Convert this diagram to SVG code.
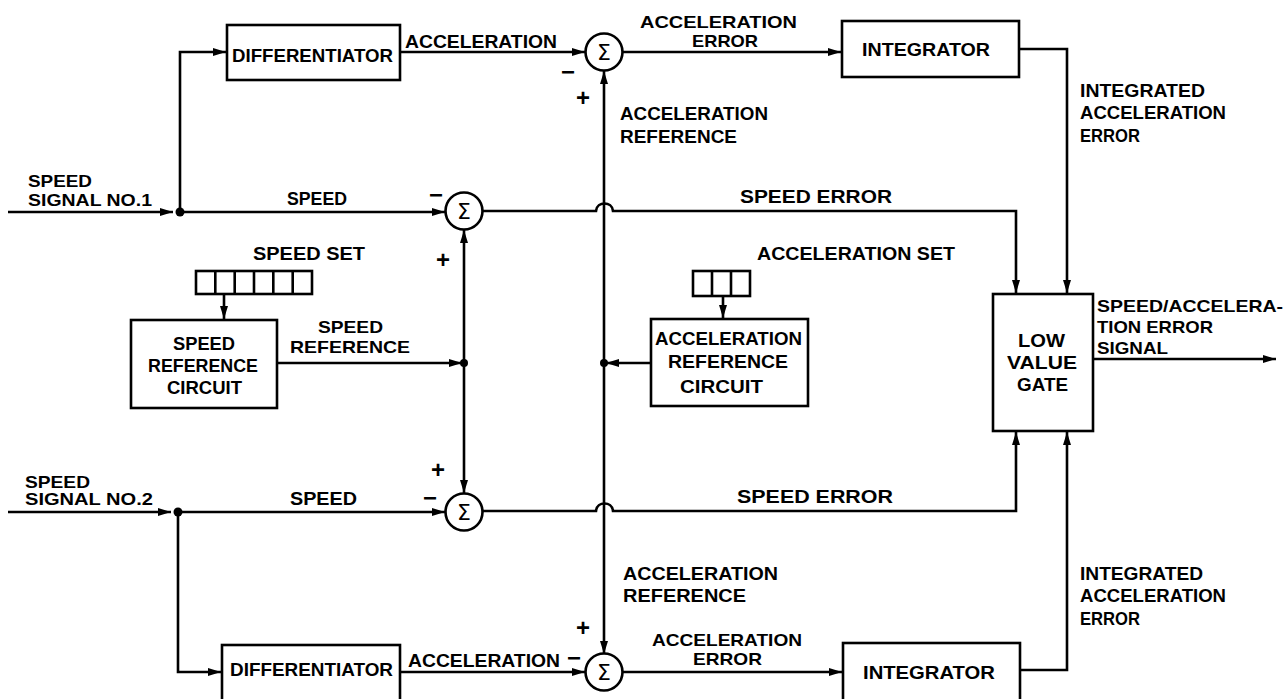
<svg xmlns="http://www.w3.org/2000/svg" width="1287" height="699" viewBox="0 0 1287 699">
<style>
  .bg{fill:#fff}
  .box{fill:#fff;stroke:#000;stroke-width:2.6}
  .ln{fill:none;stroke:#000;stroke-width:2.6}
  .t{font-family:"Liberation Sans",Arial,sans-serif;font-weight:bold;font-size:19px;fill:#000}
  .s{font-size:17px}
  .pm{font-family:"Liberation Sans",Arial,sans-serif;font-weight:bold;font-size:24px;fill:#000;text-anchor:middle}
  .sig{font-family:"DejaVu Sans","Liberation Sans",sans-serif;font-size:22px;text-anchor:middle;fill:#000}
  .dot{fill:#000}
</style>
<defs>
  <marker id="ah" markerUnits="userSpaceOnUse" markerWidth="14" markerHeight="10" refX="13" refY="5" orient="auto">
    <path d="M0,1 L13,5 L0,9 Z" fill="#000"/>
  </marker>
</defs>
<rect class="bg" x="0" y="0" width="1287" height="699"/>

<g id="connectors">
  <path class="ln" d="M8,212 H173" marker-end="url(#ah)"/>
  <path class="ln" d="M180,212 H445" marker-end="url(#ah)"/>
  <path class="ln" d="M180,212 V52 H226" marker-end="url(#ah)"/>
  <path class="ln" d="M400,52 H585" marker-end="url(#ah)"/>
  <path class="ln" d="M622,52 H841" marker-end="url(#ah)"/>
  <path class="ln" d="M1019,49 H1067 V293" marker-end="url(#ah)"/>
  <path class="ln" d="M482,211 H596 C597,201 612,201 613,211 H1016 V293" marker-end="url(#ah)"/>
  <path class="ln" d="M604,363 V71" marker-end="url(#ah)"/>
  <path class="ln" d="M604,363 V654" marker-end="url(#ah)"/>
  <path class="ln" d="M464,363 V230" marker-end="url(#ah)"/>
  <path class="ln" d="M464,363 V493" marker-end="url(#ah)"/>
  <path class="ln" d="M277,363 H462" marker-end="url(#ah)"/>
  <path class="ln" d="M651,363 H606" marker-end="url(#ah)"/>
  <path class="ln" d="M224,294 V319" marker-end="url(#ah)"/>
  <path class="ln" d="M723,296 V318" marker-end="url(#ah)"/>
  <path class="ln" d="M1093,359 H1276" marker-end="url(#ah)"/>
  <path class="ln" d="M8,512 H171" marker-end="url(#ah)"/>
  <path class="ln" d="M178,512 H445" marker-end="url(#ah)"/>
  <path class="ln" d="M178,512 V672 H221" marker-end="url(#ah)"/>
  <path class="ln" d="M400,672 H585" marker-end="url(#ah)"/>
  <path class="ln" d="M623,672 H842" marker-end="url(#ah)"/>
  <path class="ln" d="M1020,670 H1067 V432" marker-end="url(#ah)"/>
  <path class="ln" d="M482,511 H596 C597,501 612,501 613,511 H1016 V432" marker-end="url(#ah)"/>
  <circle class="dot" cx="180" cy="212" r="4.5"/>
  <circle class="dot" cx="178" cy="512" r="4.5"/>
  <circle class="dot" cx="464" cy="363" r="4"/>
  <circle class="dot" cx="604" cy="363" r="4"/>
</g>

<g id="diff1">
  <rect class="box" x="227" y="25" width="173" height="55"/>
  <text class="t" x="232" y="62" textLength="161" lengthAdjust="spacingAndGlyphs">DIFFERENTIATOR</text>
</g>
<g id="sum_acc1">
  <circle class="box" cx="604" cy="52" r="18.5"/>
  <text class="sig" x="604" y="60">Σ</text>
</g>
<g id="integ1">
  <rect class="box" x="842" y="21" width="177" height="56"/>
  <text class="t" x="862" y="56" textLength="128" lengthAdjust="spacingAndGlyphs">INTEGRATOR</text>
</g>
<g id="sum_spd1">
  <circle class="box" cx="464" cy="211" r="18.5"/>
  <text class="sig" x="464" y="219">Σ</text>
</g>
<g id="speed_set">
  <rect class="box" x="196" y="271" width="116" height="23"/>
  <path class="ln" d="M215.3,271 V294 M234.7,271 V294 M254,271 V294 M273.3,271 V294 M292.7,271 V294"/>
</g>
<g id="speed_ref">
  <rect class="box" x="131" y="320" width="146" height="88"/>
  <text class="t" x="173" y="350" textLength="62" lengthAdjust="spacingAndGlyphs">SPEED</text>
  <text class="t" x="148" y="372" textLength="110" lengthAdjust="spacingAndGlyphs">REFERENCE</text>
  <text class="t" x="167" y="394" textLength="75" lengthAdjust="spacingAndGlyphs">CIRCUIT</text>
</g>
<g id="acc_set">
  <rect class="box" x="693" y="271" width="57" height="25"/>
  <path class="ln" d="M712,271 V296 M731,271 V296"/>
</g>
<g id="acc_ref">
  <rect class="box" x="651" y="319" width="157" height="87"/>
  <text class="t" x="655" y="345" textLength="147" lengthAdjust="spacingAndGlyphs">ACCELERATION</text>
  <text class="t" x="668" y="368" textLength="120" lengthAdjust="spacingAndGlyphs">REFERENCE</text>
  <text class="t" x="680" y="393" textLength="83" lengthAdjust="spacingAndGlyphs">CIRCUIT</text>
</g>
<g id="gate">
  <rect class="box" x="993" y="294" width="100" height="137"/>
  <text class="t" x="1018" y="347" textLength="47" lengthAdjust="spacingAndGlyphs">LOW</text>
  <text class="t" x="1007" y="369" textLength="70" lengthAdjust="spacingAndGlyphs">VALUE</text>
  <text class="t" x="1017" y="391" textLength="51" lengthAdjust="spacingAndGlyphs">GATE</text>
</g>
<g id="sum_spd2">
  <circle class="box" cx="464" cy="512" r="18.5"/>
  <text class="sig" x="464" y="520">Σ</text>
</g>
<g id="diff2">
  <rect class="box" x="222" y="645" width="178" height="56"/>
  <text class="t" x="230" y="676" textLength="163" lengthAdjust="spacingAndGlyphs">DIFFERENTIATOR</text>
</g>
<g id="sum_acc2">
  <circle class="box" cx="604" cy="672" r="18.5"/>
  <text class="sig" x="604" y="680">Σ</text>
</g>
<g id="integ2">
  <rect class="box" x="843" y="643" width="177" height="58"/>
  <text class="t" x="863" y="679" textLength="132" lengthAdjust="spacingAndGlyphs">INTEGRATOR</text>
</g>

<g id="labels">
  <text class="t s" x="28" y="187" textLength="64" lengthAdjust="spacingAndGlyphs">SPEED</text>
  <text class="t s" x="28" y="206" textLength="124" lengthAdjust="spacingAndGlyphs">SIGNAL NO.1</text>
  <text class="t" x="287" y="205" textLength="60" lengthAdjust="spacingAndGlyphs">SPEED</text>
  <text class="t" x="405" y="48" textLength="152" lengthAdjust="spacingAndGlyphs">ACCELERATION</text>
  <text class="t s" x="640" y="28" textLength="157" lengthAdjust="spacingAndGlyphs">ACCELERATION</text>
  <text class="t s" x="692" y="47" textLength="66" lengthAdjust="spacingAndGlyphs">ERROR</text>
  <text class="pm" x="568" y="80">−</text>
  <text class="pm" x="583" y="106">+</text>
  <text class="t" x="620" y="120" textLength="148" lengthAdjust="spacingAndGlyphs">ACCELERATION</text>
  <text class="t" x="620" y="143" textLength="117" lengthAdjust="spacingAndGlyphs">REFERENCE</text>
  <text class="t" x="1080" y="97" textLength="125" lengthAdjust="spacingAndGlyphs">INTEGRATED</text>
  <text class="t" x="1080" y="119" textLength="146" lengthAdjust="spacingAndGlyphs">ACCELERATION</text>
  <text class="t" x="1080" y="142" textLength="60" lengthAdjust="spacingAndGlyphs">ERROR</text>
  <text class="t" x="740" y="203" textLength="152" lengthAdjust="spacingAndGlyphs">SPEED ERROR</text>
  <text class="pm" x="436" y="203">−</text>
  <text class="pm" x="443" y="268">+</text>
  <text class="t" x="253" y="260" textLength="112" lengthAdjust="spacingAndGlyphs">SPEED SET</text>
  <text class="t" x="757" y="260" textLength="198" lengthAdjust="spacingAndGlyphs">ACCELERATION SET</text>
  <text class="t s" x="318" y="333" textLength="65" lengthAdjust="spacingAndGlyphs">SPEED</text>
  <text class="t s" x="290" y="353" textLength="120" lengthAdjust="spacingAndGlyphs">REFERENCE</text>
  <text class="t s" x="1097" y="312" textLength="186" lengthAdjust="spacingAndGlyphs">SPEED/ACCELERA-</text>
  <text class="t s" x="1097" y="333" textLength="116" lengthAdjust="spacingAndGlyphs">TION ERROR</text>
  <text class="t s" x="1097" y="354" textLength="71" lengthAdjust="spacingAndGlyphs">SIGNAL</text>
  <text class="t s" x="25" y="488" textLength="65" lengthAdjust="spacingAndGlyphs">SPEED</text>
  <text class="t s" x="25" y="505" textLength="128" lengthAdjust="spacingAndGlyphs">SIGNAL NO.2</text>
  <text class="t" x="290" y="505" textLength="67" lengthAdjust="spacingAndGlyphs">SPEED</text>
  <text class="pm" x="438" y="478">+</text>
  <text class="pm" x="430" y="506">−</text>
  <text class="t" x="737" y="503" textLength="156" lengthAdjust="spacingAndGlyphs">SPEED ERROR</text>
  <text class="t" x="623" y="580" textLength="155" lengthAdjust="spacingAndGlyphs">ACCELERATION</text>
  <text class="t" x="623" y="602" textLength="123" lengthAdjust="spacingAndGlyphs">REFERENCE</text>
  <text class="pm" x="583" y="636">+</text>
  <text class="pm" x="574" y="666">−</text>
  <text class="t" x="408" y="667" textLength="152" lengthAdjust="spacingAndGlyphs">ACCELERATION</text>
  <text class="t s" x="652" y="646" textLength="150" lengthAdjust="spacingAndGlyphs">ACCELERATION</text>
  <text class="t s" x="693" y="665" textLength="69" lengthAdjust="spacingAndGlyphs">ERROR</text>
  <text class="t" x="1080" y="580" textLength="123" lengthAdjust="spacingAndGlyphs">INTEGRATED</text>
  <text class="t" x="1080" y="602" textLength="146" lengthAdjust="spacingAndGlyphs">ACCELERATION</text>
  <text class="t" x="1080" y="625" textLength="60" lengthAdjust="spacingAndGlyphs">ERROR</text>
</g>
</svg>
